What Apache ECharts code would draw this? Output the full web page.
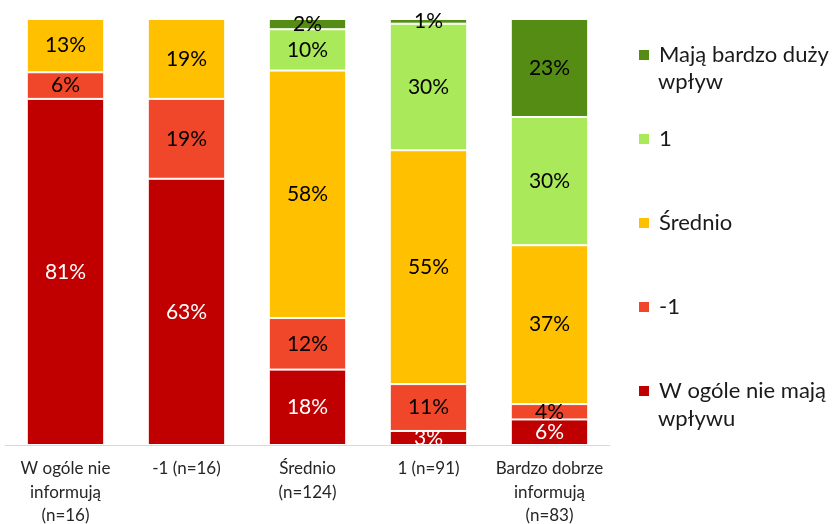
<!DOCTYPE html>
<html>
<head>
<meta charset="utf-8">
<script src="https://cdn.jsdelivr.net/npm/echarts@6/dist/echarts.min.js"></script>
<style>
  html, body { margin: 0; padding: 0; background: #fff; }
  #chart { width: 833px; height: 524px; }
</style>
</head>
<body>
<div id="chart"></div>
<script>
'use strict';
/* stacked 100% bars: influence vs. information level */

var categories = ['W ogóle nie\ninformują\n(n=16)', '-1 (n=16)', 'Średnio\n(n=124)', '1 (n=91)', 'Bardzo dobrze\ninformują\n(n=83)'];
var seriesNames = ['W ogóle nie mają wpływu', '-1', 'Średnio', '1', 'Mają bardzo duży wpływ'];
var legendLabels = ['W ogóle nie mają', '-1', 'Średnio', '1', 'Mają bardzo duży'];

// percent of each column
var noInfluence = [81.25, 62.5, 17.7, 3.3, 6.0];
var minusOne = [6.25, 18.75, 12.1, 11.0, 3.6];
var medium = [12.5, 18.75, 58.1, 54.9, 37.3];
var plusOne = [0, 0, 9.7, 29.7, 30.1];
var bigInfluence = [0, 0, 2.4, 1.1, 23.0];

var seriesData = [noInfluence, minusOne, medium, plusOne, bigInfluence];
var colors = ['#C00000', '#F0462A', '#FFC000', '#A9E95A', '#548C14'];
var labelColors = ['#ffffff', '#000000', '#000000', '#000000', '#000000'];

var fontFamily = 'Lato, "Noto Sans", sans-serif';

var chart = echarts.init(document.getElementById('chart'));

var series = [];
for (var i = 0; i < seriesNames.length; i++) {
  series.push({
    name: seriesNames[i],
    type: 'bar',
    stack: 'total',
    barCategoryGap: '36%',
    data: seriesData[i],
    itemStyle: {
      color: colors[i],
      borderColor: '#ffffff',
      borderWidth: 1
    },
    label: {
      show: true,
      position: 'inside',
      color: labelColors[i],
      fontSize: 21,
      fontFamily: fontFamily,
      formatter: function(p) {
        return p.value > 0 ? Math.round(p.value) + '%' : '';
      }
    }
  });
}

var opt = {
  animation: false,
  grid: {
    left: 5,
    right: 223,
    top: 19,
    bottom: 79,
    outerBoundsMode: 'none'
  },
  legend: {
    orient: 'vertical',
    left: 637,
    top: 42,
    padding: 0,
    itemWidth: 12,
    itemHeight: 12,
    itemGap: 58,
    icon: 'rect',
    data: seriesNames.slice().reverse(),
    formatter: function(name) {
      return legendLabels[seriesNames.indexOf(name)];
    },
    textStyle: {
      fontSize: 22,
      lineHeight: 26,
      color: '#1a1a1a',
      fontFamily: fontFamily,
      padding: [0, 0, 0, 4]
    }
  },
  graphic: [{
    type: 'text',
    left: 658,
    top: 71,
    style: { text: 'wpływ', fontSize: 22, fill: '#1a1a1a', fontFamily: fontFamily }
  }, {
    type: 'text',
    left: 658,
    top: 408,
    style: { text: 'wpływu', fontSize: 22, fill: '#1a1a1a', fontFamily: fontFamily }
  }],
  xAxis: {
    type: 'category',
    data: categories,
    axisLine: { lineStyle: { color: '#d9d9d9', width: 1 } },
    axisTick: { show: false },
    axisLabel: {
      interval: 0,
      margin: 12,
      fontSize: 17,
      lineHeight: 23.5,
      color: '#262626',
      fontFamily: fontFamily
    }
  },
  yAxis: {
    type: 'value',
    min: 0,
    max: 100,
    show: false
  },
  series: series
};

chart.setOption(opt);
</script>
</body>
</html>
